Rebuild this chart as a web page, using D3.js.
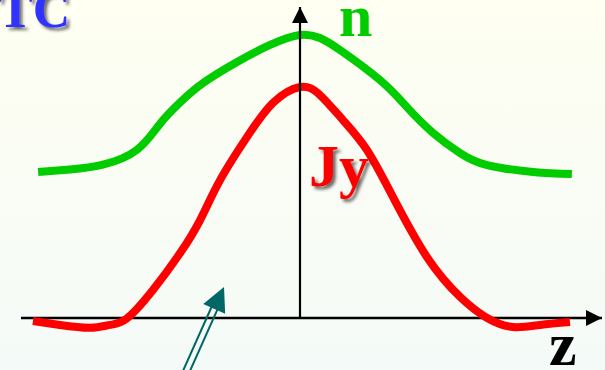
<!DOCTYPE html>
<html>
<head>
<meta charset="utf-8">
<script src="https://cdn.jsdelivr.net/npm/d3@7"></script>
<style>
  html, body { margin: 0; padding: 0; overflow: hidden; }
  svg { display: block; }
</style>
</head>
<body>
<div id="chart"></div>
<script>
// z positions (arbitrary units, 0 at the vertical axis)
const zGreen = [-9.70, -8.52, -7.30, -6.04, -5.19, -4.44, -3.59, -2.33, -1.11, 0, 0.74, 1.48, 2.96, 3.96, 4.93, 5.93, 6.93, 8.63, 10.07];
const nValues = [6.32, 6.43, 6.64, 7.28, 8.40, 9.33, 10.17, 11.08, 11.82, 12.25, 12.12, 11.60, 10.30, 9.13, 8.01, 7.14, 6.62, 6.32, 6.23];

const zRed = [-9.89, -8.89, -7.78, -7.04, -6.41, -5.44, -4.44, -3.70, -2.96, -1.96, -1.00, 0, 0.74, 1.59, 2.48, 3.44, 4.70, 5.93, 6.93, 7.89, 8.89, 10.0];
const jyValues = [-0.13, -0.30, -0.42, -0.30, -0.02, 1.22, 2.81, 4.24, 5.97, 7.84, 9.31, 10.0, 9.65, 8.57, 7.27, 5.24, 2.64, 0.91, 0, -0.39, -0.30, -0.17];

const labels = { corner: 'TC', n: 'n', jy: 'Jy', z: 'z' };

const W = 605, H = 370;

const svg = d3.select('#chart').append('svg')
  .attr('width', W).attr('height', H);

const defs = svg.append('defs');
const grad = defs.append('linearGradient').attr('id', 'bg')
  .attr('x1', 0).attr('y1', 0).attr('x2', 0).attr('y2', 1);
grad.append('stop').attr('offset', '0%').attr('stop-color', '#fffff2');
grad.append('stop').attr('offset', '100%').attr('stop-color', '#f4faf7');

const shadow = defs.append('filter').attr('id', 'shadow')
  .attr('x', '-20%').attr('y', '-20%').attr('width', '150%').attr('height', '150%');
shadow.append('feDropShadow')
  .attr('dx', 3).attr('dy', 3).attr('stdDeviation', 1.5)
  .attr('flood-color', '#222').attr('flood-opacity', 0.65);

defs.append('marker').attr('id', 'head')
  .attr('viewBox', '0 0 10 10').attr('refX', 10).attr('refY', 5)
  .attr('markerWidth', 16).attr('markerHeight', 16)
  .attr('markerUnits', 'userSpaceOnUse').attr('orient', 'auto')
  .append('path').attr('d', 'M0,0 L10,5 L0,10 Z').attr('fill', '#000');

svg.append('rect').attr('width', W).attr('height', H).attr('fill', 'url(#bg)');

const x = d3.scaleLinear().domain([-10, 10]).range([30, 570]);
const y = d3.scaleLinear().domain([0, 10]).range([318, 87]);

// horizontal axis (drawn under the curves)
svg.append('line')
  .attr('x1', 21).attr('x2', 602)
  .attr('y1', y(0)).attr('y2', y(0))
  .attr('stroke', '#000').attr('stroke-width', 2.5)
  .attr('marker-end', 'url(#head)');

const line = d3.line().curve(d3.curveNatural);

svg.append('path')
  .attr('d', line(zGreen.map((z, i) => [x(z), y(nValues[i])])))
  .attr('fill', 'none').attr('stroke', '#00cc00').attr('stroke-width', 8);

svg.append('path')
  .attr('d', line(zRed.map((z, i) => [x(z), y(jyValues[i])])))
  .attr('fill', 'none').attr('stroke', '#ff0000').attr('stroke-width', 8);

// vertical axis on top
svg.append('line')
  .attr('x1', x(0)).attr('x2', x(0))
  .attr('y1', y(0)).attr('y2', 7)
  .attr('stroke', '#000').attr('stroke-width', 2.2)
  .attr('marker-end', 'url(#head)');

// double-line arrow pointing at the red curve
const tip = [224, 287], tail = [186, 372];
const dx = tip[0] - tail[0], dy = tip[1] - tail[1];
const len = Math.hypot(dx, dy);
const ux = dx / len, uy = dy / len, px = -uy, py = ux;
const headLen = 24, headHalf = 12, shaftHalf = 3.2;
const base = [tip[0] - ux * headLen, tip[1] - uy * headLen];
const arrow = svg.append('g');
[-1, 1].forEach(s => {
  arrow.append('line')
    .attr('x1', tail[0] + px * shaftHalf * s).attr('y1', tail[1] + py * shaftHalf * s)
    .attr('x2', base[0] + px * shaftHalf * s + ux * 2).attr('y2', base[1] + py * shaftHalf * s + uy * 2)
    .attr('stroke', '#006666').attr('stroke-width', 2);
});
arrow.append('path')
  .attr('d', `M${tip[0]},${tip[1]} L${base[0] + px * headHalf},${base[1] + py * headHalf} L${base[0] - px * headHalf},${base[1] - py * headHalf} Z`)
  .attr('fill', '#006666');

const font = '"Liberation Serif", "Times New Roman", serif';

svg.append('text').attr('x', -2).attr('y', 27)
  .attr('font-family', font).attr('font-weight', 'bold').attr('font-size', 52)
  .attr('fill', '#3333ff').attr('filter', 'url(#shadow)')
  .text(labels.corner);

svg.append('text').attr('x', 339).attr('y', 36)
  .attr('font-family', font).attr('font-weight', 'bold').attr('font-size', 60)
  .attr('fill', '#00cc00')
  .text(labels.n);

svg.append('text').attr('x', 309).attr('y', 186)
  .attr('font-family', font).attr('font-weight', 'bold').attr('font-size', 60)
  .attr('fill', '#ff0000').attr('filter', 'url(#shadow)')
  .text(labels.jy);

svg.append('text').attr('x', 549).attr('y', 365)
  .attr('font-family', font).attr('font-weight', 'bold').attr('font-size', 62)
  .attr('fill', '#000')
  .text(labels.z);
</script>
</body>
</html>
